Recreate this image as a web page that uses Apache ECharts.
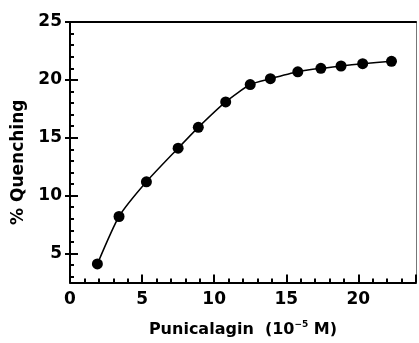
<!DOCTYPE html>
<html>
<head>
<meta charset="utf-8">
<script src="https://cdn.jsdelivr.net/npm/echarts@6/dist/echarts.min.js"></script>
<style>
  html, body { margin: 0; padding: 0; background: #fff; }
  #chart { width: 419px; height: 343px; }
</style>
</head>
<body>
<div id="chart"></div>
<script>
// punicalagin concentration (10^-5 M) and % quenching
const concentration = [1.9, 3.4, 5.3, 7.5, 8.9, 10.8, 12.5, 13.9, 15.8, 17.4, 18.8, 20.3, 22.3];
const quenching = [4.1, 8.2, 11.2, 14.1, 15.9, 18.1, 19.6, 20.1, 20.7, 21.0, 21.2, 21.4, 21.6];

const yMajor = [5, 10, 15, 20, 25];
const yMinor = [3, 4, 6, 7, 8, 9, 11, 12, 13, 14, 16, 17, 18, 19, 21, 22, 23, 24];

const font = 'DejaVu Sans, Verdana, sans-serif';
const chart = echarts.init(document.getElementById('chart'));

const points = concentration.map((c, i) => [c, quenching[i]]);

const hiddenY = {
  type: 'value', min: 2.5, max: 25, position: 'left',
  axisLine: { show: false }, axisLabel: { show: false }, splitLine: { show: false }
};

const option = {
  animation: false,
  grid: { left: 70, top: 22, right: 1, bottom: 57 },
  xAxis: [
    {
      type: 'value', min: 0, max: 24, interval: 5,
      name: '{b|Punicalagin  (10}{s|−5}{b| M)}',
      nameLocation: 'middle', nameGap: 38,
      nameTextStyle: {
        rich: {
          b: { fontFamily: font, fontWeight: 'bold', fontSize: 16, color: '#000' },
          s: { fontFamily: font, fontWeight: 'bold', fontSize: 9, color: '#000', verticalAlign: 'bottom', padding: [0, 0, 10, 0] }
        }
      },
      axisLine: { lineStyle: { color: '#000', width: 2 } },
      axisTick: { inside: true, length: 8, lineStyle: { color: '#000', width: 2 } },
      minorTick: { show: true, splitNumber: 5, length: 4, lineStyle: { color: '#000', width: 2 } },
      axisLabel: {
        margin: 9, color: '#000', fontFamily: font, fontWeight: 'bold', fontSize: 17,
        formatter: v => (v % 5 === 0 && v <= 20 ? v : '')
      },
      splitLine: { show: false }
    },
    {
      type: 'value', min: 0, max: 24, position: 'top',
      axisLine: { show: true, lineStyle: { color: '#000', width: 2 } },
      axisTick: { show: false }, axisLabel: { show: false }, splitLine: { show: false }
    }
  ],
  yAxis: [
    {
      type: 'value', min: 2.5, max: 25, position: 'left',
      name: '% Quenching', nameLocation: 'middle', nameGap: 42,
      nameTextStyle: { fontFamily: font, fontWeight: 'bold', fontSize: 17, color: '#000', padding: [0, 20, 0, 0] },
      axisLine: { show: true, lineStyle: { color: '#000', width: 2 } },
      axisTick: { show: true, inside: false, length: 5, customValues: yMajor, lineStyle: { color: '#000', width: 2 } },
      axisLabel: {
        customValues: yMajor, margin: 8, color: '#000',
        fontFamily: font, fontWeight: 'bold', fontSize: 17
      },
      splitLine: { show: false }
    },
    Object.assign({}, hiddenY, {
      axisTick: { show: true, inside: true, length: 8, customValues: yMajor, lineStyle: { color: '#000', width: 2 } }
    }),
    Object.assign({}, hiddenY, {
      axisTick: { show: true, inside: true, length: 4, customValues: yMinor, lineStyle: { color: '#000', width: 2 } }
    }),
    {
      type: 'value', min: 2.5, max: 25, position: 'right',
      axisLine: { show: true, lineStyle: { color: '#777', width: 1 } },
      axisTick: { show: false }, axisLabel: { show: false }, splitLine: { show: false }
    }
  ],
  series: [
    {
      type: 'line',
      data: points,
      smooth: 0.2,
      symbol: 'circle',
      symbolSize: 11,
      itemStyle: { color: '#000' },
      lineStyle: { color: '#000', width: 1.5 }
    }
  ]
};

chart.setOption(option);
</script>
</body>
</html>
